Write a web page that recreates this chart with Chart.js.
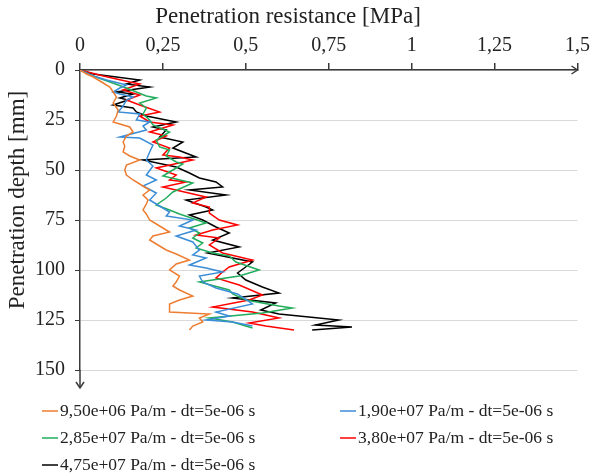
<!DOCTYPE html>
<html>
<head>
<meta charset="utf-8">
<script src="https://cdn.jsdelivr.net/npm/chart.js@4.4.1/dist/chart.umd.min.js"></script>
<style>
  html, body { margin: 0; padding: 0; background: #fff; }
  #wrap { width: 595px; height: 475px; position: relative; }
</style>
</head>
<body>
<div id="wrap"><canvas id="chart"></canvas></div>
<script>
// Depth [mm] and resistance [MPa], one pair per series
var depthA = [0,2,3.5,6,8.5,11,13.5,16.5,20,23,26,28.5,31,33,36,38,41,43,45,47.5,50,52.5,55,57,60,62.5,65,67,70,72,75,78,81,83,85,88,90,92,95,97,100,103,106,108,110,113,115,117,119,121,122,124,126,128,130];
var resA   = [0,0.02,0.04,0.065,0.09,0.10,0.11,0.10,0.115,0.11,0.10,0.15,0.16,0.14,0.13,0.135,0.13,0.15,0.18,0.14,0.135,0.14,0.16,0.18,0.21,0.19,0.205,0.20,0.19,0.20,0.21,0.24,0.27,0.22,0.21,0.24,0.26,0.29,0.33,0.29,0.27,0.30,0.29,0.28,0.30,0.34,0.30,0.27,0.27,0.27,0.39,0.36,0.37,0.34,0.33];

var depthB = [0,3,5,7.5,9,11,12,13.5,15,18,21,22,25,26,28,30,33.5,34,37.5,41,45,48,52.5,55,58,61.5,65,68,71,73,75,78,80,83,86,90,92.5,94,97.5,99,101,103,106,109,112,117,121,123,125,126,128];
var resB   = [0,0.04,0.08,0.14,0.12,0.10,0.12,0.16,0.14,0.13,0.115,0.18,0.17,0.21,0.19,0.20,0.12,0.18,0.22,0.21,0.20,0.22,0.20,0.23,0.19,0.23,0.21,0.24,0.27,0.26,0.34,0.30,0.35,0.29,0.34,0.36,0.34,0.38,0.33,0.38,0.43,0.36,0.37,0.41,0.475,0.52,0.41,0.45,0.38,0.46,0.52];

var depthC = [0,3,6,9,11,13,14,16.5,19,22,25,27.5,31,33,35,38.5,40,43,46,47,51,53,56.5,61,64,67.5,70,72,76.5,79,81.5,84,86.5,89,91.5,93,96,100,103,106,110,112,115,118,119,121.5,124,126,129];
var resC   = [0,0.04,0.09,0.14,0.17,0.20,0.23,0.18,0.20,0.19,0.21,0.22,0.27,0.25,0.23,0.24,0.27,0.26,0.29,0.31,0.27,0.25,0.34,0.28,0.26,0.23,0.27,0.30,0.38,0.33,0.36,0.34,0.37,0.35,0.40,0.45,0.47,0.54,0.48,0.36,0.45,0.46,0.50,0.60,0.64,0.55,0.39,0.46,0.52];

var depthD = [0,3,6,7,10,12.5,15,17.5,21,23,26,27.5,31,33,36,39,42.5,43.5,45,49,52.5,55,56,58.5,63.5,66.5,68.5,71.5,75,77.5,80,82.5,84,87.5,91.5,95,98.5,101,104,107.5,112.5,115,118.5,121,124,126.5,128,130];
var resD   = [0,0.07,0.15,0.18,0.13,0.18,0.14,0.18,0.24,0.18,0.21,0.28,0.21,0.26,0.22,0.27,0.25,0.30,0.34,0.23,0.29,0.27,0.32,0.25,0.38,0.34,0.39,0.39,0.42,0.475,0.40,0.35,0.42,0.39,0.43,0.52,0.45,0.43,0.41,0.48,0.55,0.51,0.40,0.52,0.60,0.51,0.56,0.645];

var depthE = [0,2,5,7,8.5,11,12,14,15,17.5,19,21,23,26,28.5,30,33.5,36,39,43.5,45,48.5,51.5,54,56,58.5,60,62.5,65,68.5,70,72.5,75,78.5,81.5,85,88.5,91.5,96,101.5,105,108.5,111.5,114,116.5,120,122,125,127.5,128.5,130];
var resE   = [0,0.04,0.18,0.14,0.21,0.11,0.16,0.12,0.145,0.10,0.16,0.17,0.20,0.29,0.22,0.26,0.24,0.31,0.28,0.35,0.19,0.29,0.33,0.36,0.41,0.43,0.33,0.44,0.32,0.38,0.40,0.33,0.37,0.41,0.45,0.40,0.48,0.385,0.52,0.475,0.50,0.55,0.60,0.46,0.59,0.545,0.60,0.78,0.71,0.82,0.70];

var seriesLabels = [
  "9,50e+06 Pa/m - dt=5e-06 s",
  "1,90e+07 Pa/m - dt=5e-06 s",
  "2,85e+07 Pa/m - dt=5e-06 s",
  "3,80e+07 Pa/m - dt=5e-06 s",
  "4,75e+07 Pa/m - dt=5e-06 s"
];
var seriesColors = ["#ED7D31", "#3A8DD6", "#21AD5C", "#FF0000", "#000000"];
var xTitle = "Penetration resistance [MPa]";
var yTitle = "Penetration depth [mm]";
var depths = [depthA, depthB, depthC, depthD, depthE];
var values = [resA, resB, resC, resD, resE];

var serif = "'Liberation Serif', 'Times New Roman', serif";
var axisColor = "#3a3a3a";

// build the point lists
var datasets = [];
for (var i = 0; i < depths.length; i++) {
  var pts = [];
  for (var j = 0; j < depths[i].length; j++) {
    pts.push({ x: values[i][j], y: depths[i][j] });
  }
  datasets.push({
    label: seriesLabels[i],
    data: pts,
    borderColor: seriesColors[i],
    backgroundColor: seriesColors[i],
    borderWidth: 1.5,
    pointRadius: 0,
    showLine: true,
    tension: 0
  });
}

// axis titles, arrows and the legend under the plot
var extras = {
  id: "extras",
  afterDraw: function(chart) {
    var ctx = chart.ctx;
    var a = chart.chartArea;
    ctx.save();
    ctx.strokeStyle = axisColor;
    ctx.lineWidth = 1.5;
    // y axis continues below 150
    ctx.beginPath();
    ctx.moveTo(a.left, a.bottom);
    ctx.lineTo(a.left, a.bottom + 18);
    ctx.stroke();
    ctx.beginPath();
    ctx.moveTo(a.left - 4, a.bottom + 12);
    ctx.lineTo(a.left, a.bottom + 18);
    ctx.lineTo(a.left + 4, a.bottom + 12);
    ctx.stroke();
    // x axis arrow head
    ctx.beginPath();
    ctx.moveTo(a.right - 6, a.top - 4);
    ctx.lineTo(a.right, a.top);
    ctx.lineTo(a.right - 6, a.top + 4);
    ctx.stroke();

    // titles (the originals sit left of / above the axis centre)
    ctx.fillStyle = "#222";
    ctx.font = "23px " + serif;
    ctx.textAlign = "center";
    ctx.textBaseline = "middle";
    ctx.fillText(xTitle, 288, 17);
    ctx.save();
    ctx.translate(18, 200);
    ctx.rotate(-Math.PI / 2);
    ctx.fillText(yTitle, 0, 0);
    ctx.restore();

    // legend
    var cols = [42, 340];
    var rows = [411, 438, 465];
    ctx.font = "17.5px " + serif;
    ctx.textAlign = "left";
    for (var k = 0; k < seriesLabels.length; k++) {
      var lx = cols[k % 2];
      var ly = rows[Math.floor(k / 2)];
      ctx.strokeStyle = seriesColors[k];
      ctx.lineWidth = 1.5;
      ctx.beginPath();
      ctx.moveTo(lx, ly);
      ctx.lineTo(lx + 16, ly);
      ctx.stroke();
      ctx.fillText(seriesLabels[k], lx + 18, ly);
    }
    ctx.restore();
  }
};

var ctx = document.getElementById("chart").getContext("2d");
var myChart = new Chart(ctx, {
  type: "scatter",
  data: { datasets: datasets },
  options: {
    responsive: true,
    maintainAspectRatio: false,
    animation: false,
    layout: { padding: { left: 0, right: 15, top: 0, bottom: 105 } },
    plugins: {
      legend: { display: false },
      tooltip: { enabled: false }
    },
    scales: {
      x: {
        type: "linear",
        position: "top",
        min: 0,
        max: 1.5,
        afterFit: function(s) { s.height = 70; },
        ticks: {
          stepSize: 0.25,
          padding: 5,
          color: "#222",
          font: { family: serif, size: 20 },
          callback: function(v) { return String(v).replace(".", ","); }
        },
        grid: { drawOnChartArea: false, drawTicks: true, tickLength: 7, color: axisColor, lineWidth: 1.5 },
        border: { color: axisColor, width: 1.5 }
      },
      y: {
        type: "linear",
        reverse: true,
        min: 0,
        max: 150,
        afterFit: function(s) { s.width = 80; },
        ticks: {
          stepSize: 25,
          padding: 10,
          color: "#222",
          font: { family: serif, size: 20 }
        },
        grid: { color: "#d9d9d9", lineWidth: 1, tickColor: axisColor, tickLength: 5 },
        border: { color: axisColor, width: 1.5 }
      }
    }
  },
  plugins: [extras]
});
</script>
</body>
</html>
